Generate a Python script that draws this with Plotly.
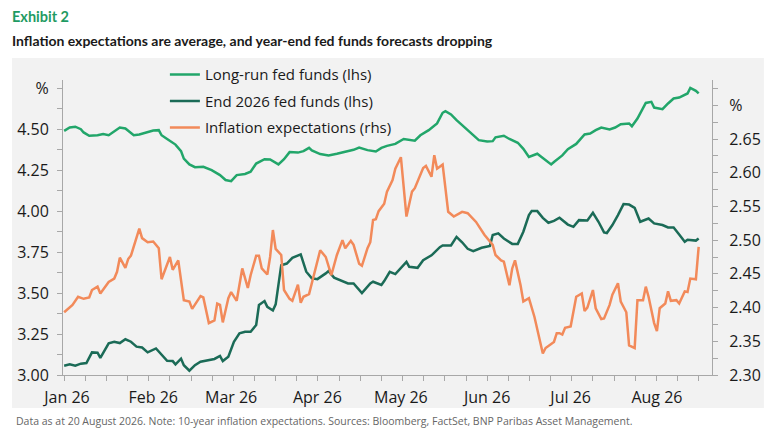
import plotly.graph_objects as go

# values
# fed funds (lhs, %)
long_run_dates = [
    "2025-12-31", "2026-01-02", "2026-01-04", "2026-01-06", "2026-01-07", "2026-01-09", "2026-01-12",
    "2026-01-14", "2026-01-16", "2026-01-18", "2026-01-20", "2026-01-22", "2026-01-24", "2026-01-25",
    "2026-01-27", "2026-01-30",
    "2026-02-01", "2026-02-03", "2026-02-04", "2026-02-06", "2026-02-09", "2026-02-11", "2026-02-12",
    "2026-02-14", "2026-02-16", "2026-02-19", "2026-02-22", "2026-02-25", "2026-02-27",
    "2026-03-01", "2026-03-03", "2026-03-06", "2026-03-08", "2026-03-10", "2026-03-13", "2026-03-15",
    "2026-03-18", "2026-03-20", "2026-03-22", "2026-03-25", "2026-03-27", "2026-03-29", "2026-03-30",
    "2026-04-02", "2026-04-05", "2026-04-08", "2026-04-11", "2026-04-14", "2026-04-16", "2026-04-19",
    "2026-04-22", "2026-04-24", "2026-04-26", "2026-04-29",
    "2026-05-02", "2026-05-06", "2026-05-08", "2026-05-11", "2026-05-14", "2026-05-16", "2026-05-17",
    "2026-05-19", "2026-05-21", "2026-05-24", "2026-05-27", "2026-05-29",
    "2026-06-01", "2026-06-03", "2026-06-04", "2026-06-07", "2026-06-09", "2026-06-12", "2026-06-14",
    "2026-06-16", "2026-06-19", "2026-06-22", "2026-06-24", "2026-06-25", "2026-06-28", "2026-06-30",
    "2026-07-03", "2026-07-06", "2026-07-08", "2026-07-10", "2026-07-12", "2026-07-15", "2026-07-17",
    "2026-07-19", "2026-07-22", "2026-07-23", "2026-07-25", "2026-07-28", "2026-07-30", "2026-07-31",
    "2026-08-03", "2026-08-05", "2026-08-07", "2026-08-09", "2026-08-12", "2026-08-13", "2026-08-15",
    "2026-08-16",
]
long_run = [
    4.49, 4.51, 4.515, 4.50, 4.48, 4.46, 4.463, 4.47, 4.463, 4.488, 4.51, 4.504, 4.48, 4.463, 4.468, 4.484,
    4.492, 4.494, 4.463, 4.44, 4.406, 4.366, 4.32, 4.285, 4.268, 4.27, 4.25, 4.22, 4.19,
    4.183, 4.22, 4.227, 4.24, 4.29, 4.317, 4.315, 4.285, 4.317, 4.36, 4.357, 4.366, 4.386, 4.37,
    4.348, 4.34, 4.35, 4.36, 4.374, 4.388, 4.372, 4.364, 4.386, 4.398, 4.41,
    4.44, 4.43, 4.463, 4.494, 4.535, 4.60, 4.61, 4.59, 4.555, 4.51, 4.46, 4.433,
    4.425, 4.427, 4.45, 4.46, 4.44, 4.417, 4.38, 4.33, 4.35, 4.31, 4.285, 4.30, 4.34, 4.378,
    4.41, 4.468, 4.473, 4.494, 4.51, 4.498, 4.51, 4.53, 4.535, 4.518, 4.565, 4.66, 4.667, 4.632,
    4.622, 4.657, 4.687, 4.693, 4.718, 4.752, 4.734, 4.718,
]

end26_dates = [
    "2025-12-31", "2026-01-02", "2026-01-04", "2026-01-06", "2026-01-08", "2026-01-10", "2026-01-12",
    "2026-01-13", "2026-01-16", "2026-01-18", "2026-01-20", "2026-01-22", "2026-01-24", "2026-01-26",
    "2026-01-28", "2026-01-30",
    "2026-02-02", "2026-02-03", "2026-02-06", "2026-02-08", "2026-02-09", "2026-02-11", "2026-02-12",
    "2026-02-14", "2026-02-16", "2026-02-18", "2026-02-21", "2026-02-23", "2026-02-25", "2026-02-26",
    "2026-02-28",
    "2026-03-02", "2026-03-04", "2026-03-06", "2026-03-08", "2026-03-10", "2026-03-11", "2026-03-13",
    "2026-03-14", "2026-03-16", "2026-03-17", "2026-03-18", "2026-03-19", "2026-03-21", "2026-03-23",
    "2026-03-26", "2026-03-28", "2026-03-30",
    "2026-04-01", "2026-04-04", "2026-04-05", "2026-04-07", "2026-04-09", "2026-04-12", "2026-04-14",
    "2026-04-17", "2026-04-20", "2026-04-21", "2026-04-24", "2026-04-25", "2026-04-27", "2026-04-29",
    "2026-05-03", "2026-05-04", "2026-05-07", "2026-05-09", "2026-05-12", "2026-05-15", "2026-05-16",
    "2026-05-19", "2026-05-21", "2026-05-23", "2026-05-25", "2026-05-27", "2026-05-30",
    "2026-06-02", "2026-06-03", "2026-06-05", "2026-06-07", "2026-06-10", "2026-06-12", "2026-06-14",
    "2026-06-16", "2026-06-17", "2026-06-19", "2026-06-21", "2026-06-23", "2026-06-25", "2026-06-27",
    "2026-06-30",
    "2026-07-02", "2026-07-04", "2026-07-07", "2026-07-09", "2026-07-11", "2026-07-13", "2026-07-14",
    "2026-07-16", "2026-07-18", "2026-07-20", "2026-07-22", "2026-07-24", "2026-07-26", "2026-07-29",
    "2026-07-31",
    "2026-08-03", "2026-08-05", "2026-08-07", "2026-08-09", "2026-08-11", "2026-08-12", "2026-08-14",
    "2026-08-15", "2026-08-16",
]
end26 = [
    3.057, 3.065, 3.057, 3.069, 3.073, 3.138, 3.136, 3.105, 3.193, 3.203, 3.195, 3.218, 3.203, 3.173,
    3.168, 3.138,
    3.162, 3.142, 3.087, 3.085, 3.065, 3.10, 3.06, 3.026, 3.06, 3.081, 3.09, 3.098, 3.116, 3.085, 3.112,
    3.203, 3.254, 3.264, 3.264, 3.305, 3.427, 3.451, 3.416, 3.394, 3.431, 3.569, 3.67, 3.68, 3.715,
    3.736, 3.63, 3.59,
    3.585, 3.62, 3.634, 3.594, 3.58, 3.559, 3.559, 3.50, 3.559, 3.569, 3.549, 3.573, 3.63, 3.616,
    3.69, 3.66, 3.654, 3.70, 3.73, 3.78, 3.79, 3.79, 3.843, 3.81, 3.77, 3.756, 3.776,
    3.788, 3.854, 3.864, 3.833, 3.80, 3.80, 3.874, 3.976, 4.00, 4.00, 3.959, 3.929, 3.94, 3.96, 3.918,
    3.904, 3.945, 3.943, 3.99, 3.935, 3.87, 3.866, 3.915, 3.976, 4.043, 4.04, 4.02, 3.935, 3.955, 3.925,
    3.915, 3.90, 3.90, 3.857, 3.813, 3.825, 3.82, 3.82, 3.833,
]

# 10-year inflation expectations (rhs, %)
infl_dates = [
    "2025-12-31", "2026-01-03", "2026-01-05", "2026-01-07", "2026-01-09", "2026-01-10", "2026-01-12",
    "2026-01-13", "2026-01-16", "2026-01-18", "2026-01-19", "2026-01-20", "2026-01-22", "2026-01-23",
    "2026-01-24", "2026-01-27", "2026-01-28", "2026-01-30",
    "2026-02-01", "2026-02-03", "2026-02-04", "2026-02-06", "2026-02-07", "2026-02-08", "2026-02-10",
    "2026-02-12", "2026-02-14", "2026-02-15", "2026-02-18", "2026-02-19", "2026-02-21", "2026-02-23",
    "2026-02-24", "2026-02-25", "2026-02-26", "2026-02-28",
    "2026-03-01", "2026-03-03", "2026-03-05", "2026-03-07", "2026-03-08", "2026-03-10", "2026-03-11",
    "2026-03-12", "2026-03-14", "2026-03-15", "2026-03-16", "2026-03-17", "2026-03-19", "2026-03-20",
    "2026-03-22", "2026-03-23", "2026-03-25", "2026-03-26", "2026-03-27", "2026-03-29", "2026-03-31",
    "2026-04-02", "2026-04-04", "2026-04-05", "2026-04-06", "2026-04-08", "2026-04-10", "2026-04-11",
    "2026-04-13", "2026-04-14", "2026-04-16", "2026-04-17", "2026-04-19", "2026-04-20", "2026-04-21",
    "2026-04-22", "2026-04-23", "2026-04-25", "2026-04-26", "2026-04-28", "2026-04-29",
    "2026-05-01", "2026-05-03", "2026-05-05", "2026-05-06", "2026-05-09", "2026-05-10", "2026-05-12",
    "2026-05-13", "2026-05-14", "2026-05-16", "2026-05-17", "2026-05-18", "2026-05-20", "2026-05-23",
    "2026-05-25", "2026-05-28", "2026-05-31",
    "2026-06-03", "2026-06-04", "2026-06-06", "2026-06-07", "2026-06-09", "2026-06-10", "2026-06-11",
    "2026-06-13", "2026-06-14", "2026-06-16", "2026-06-18", "2026-06-21", "2026-06-22", "2026-06-25",
    "2026-06-26", "2026-06-27", "2026-06-28", "2026-06-29",
    "2026-07-01", "2026-07-03", "2026-07-05", "2026-07-06", "2026-07-07", "2026-07-09", "2026-07-10",
    "2026-07-12", "2026-07-13", "2026-07-15", "2026-07-16", "2026-07-18", "2026-07-19", "2026-07-21",
    "2026-07-22", "2026-07-24", "2026-07-25", "2026-07-27", "2026-07-28", "2026-07-29", "2026-07-31",
    "2026-08-01", "2026-08-02", "2026-08-04", "2026-08-05", "2026-08-06", "2026-08-08", "2026-08-09",
    "2026-08-11", "2026-08-12", "2026-08-13", "2026-08-15", "2026-08-16",
]
infl = [
    2.393, 2.404, 2.416, 2.413, 2.415, 2.426, 2.431, 2.421, 2.438, 2.443, 2.453, 2.474, 2.459, 2.472,
    2.477, 2.517, 2.503, 2.497,
    2.498, 2.488, 2.442, 2.463, 2.475, 2.456, 2.47, 2.411, 2.409, 2.398, 2.417, 2.415, 2.377, 2.381,
    2.406, 2.404, 2.378, 2.414,
    2.423, 2.41, 2.458, 2.429, 2.448, 2.477, 2.477, 2.458, 2.449, 2.475, 2.515, 2.487, 2.478, 2.426,
    2.413, 2.41, 2.434, 2.407, 2.416, 2.42, 2.451,
    2.485, 2.475, 2.463, 2.448, 2.478, 2.50, 2.488, 2.499, 2.493, 2.465, 2.462, 2.488, 2.497, 2.53,
    2.531, 2.543, 2.554, 2.572, 2.589, 2.606,
    2.623, 2.535, 2.572, 2.577, 2.607, 2.61, 2.594, 2.626, 2.606, 2.612, 2.577, 2.542, 2.535, 2.542,
    2.54, 2.527, 2.508,
    2.493, 2.478, 2.47, 2.468, 2.433, 2.458, 2.47, 2.433, 2.409, 2.414, 2.386, 2.332, 2.34, 2.349,
    2.362, 2.362, 2.36, 2.37,
    2.372, 2.416, 2.421, 2.395, 2.40, 2.426, 2.399, 2.383, 2.384, 2.404, 2.419, 2.436, 2.409, 2.393,
    2.344, 2.34, 2.411, 2.411, 2.431, 2.416, 2.377,
    2.365, 2.399, 2.406, 2.424, 2.41, 2.411, 2.406, 2.424, 2.423, 2.443, 2.442, 2.49,
]

month_ticks = ["2026-01-01", "2026-02-01", "2026-03-01", "2026-04-01",
               "2026-05-01", "2026-06-01", "2026-07-01", "2026-08-01"]
month_labels = ["Jan 26", "Feb 26", "Mar 26", "Apr 26", "May 26", "Jun 26", "Jul 26", "Aug 26"]
lhs_ticks = [3.00, 3.25, 3.50, 3.75, 4.00, 4.25, 4.50, 4.75]
lhs_labels = ["3.00", "3.25", "3.50", "3.75", "4.00", "4.25", "4.50", "%"]
rhs_ticks = [2.30, 2.35, 2.40, 2.45, 2.50, 2.55, 2.60, 2.65, 2.70]
rhs_labels = ["2.30", "2.35", "2.40", "2.45", "2.50", "2.55", "2.60", "2.65", "%"]

GREEN = "#22a66a"
DARK_GREEN = "#1b6b57"
ORANGE = "#f28a5a"
AXIS_GREY = "#a8a8a8"
PANEL = "#f2f2f2"
TEXT = "#1a1a1a"
FONT = "Open Sans"
TITLE_FONT = "Lato"

fig = go.Figure()

fig.add_trace(go.Scatter(x=long_run_dates, y=long_run, mode="lines",
                         name="Long-run fed funds (lhs)", legendgroup="lr",
                         line=dict(color=GREEN, width=2.5)))
fig.add_trace(go.Scatter(x=end26_dates, y=end26, mode="lines",
                         name="End 2026 fed funds (lhs)", legendgroup="e26",
                         line=dict(color=DARK_GREEN, width=2.5)))
fig.add_trace(go.Scatter(x=infl_dates, y=infl, mode="lines", yaxis="y2",
                         name="Inflation expectations (rhs)", legendgroup="inf",
                         line=dict(color=ORANGE, width=2.5)))

# grey panel behind the chart, title above it
fig.add_shape(type="rect", xref="paper", yref="paper", x0=-0.0786, x1=1.08, y0=-0.112, y1=1.075,
              fillcolor=PANEL, line=dict(width=0), layer="below")

fig.add_annotation(text="<b>Exhibit 2</b>", xref="paper", yref="paper", x=-0.0817, y=1.214,
                   xanchor="left", yanchor="middle", showarrow=False,
                   font=dict(family=TITLE_FONT, size=14.5, color="#1f9b63"))
fig.add_annotation(text="<b>Inflation expectations are average, and year-end fed funds forecasts dropping</b>",
                   xref="paper", yref="paper", x=-0.0817, y=1.135, xanchor="left", yanchor="middle",
                   showarrow=False, font=dict(family=TITLE_FONT, size=14, color=TEXT))
fig.add_annotation(text="Data as at 20 August 2026. Note: 10-year inflation expectations. "
                        "Sources: Bloomberg, FactSet, BNP Paribas Asset Management.",
                   xref="paper", yref="paper", x=-0.0755, y=-0.156, xanchor="left", yanchor="middle",
                   showarrow=False, font=dict(family=FONT, size=10.5, color="#666666"))

axis_common = dict(showline=True, linecolor=AXIS_GREY, linewidth=1, showgrid=False, zeroline=False,
                   ticks="outside", ticklen=5, tickcolor=AXIS_GREY,
                   tickfont=dict(family=FONT, size=16, color=TEXT))

fig.update_layout(
    width=772, height=433,
    margin=dict(l=63, r=60, t=80, b=58),
    paper_bgcolor="white",
    plot_bgcolor=PANEL,
    showlegend=True,
    legend=dict(x=0.157, y=1.074, xanchor="left", yanchor="top", bgcolor="rgba(0,0,0,0)",
                tracegroupgap=4, font=dict(family=FONT, size=15, color=TEXT)),
    xaxis=dict(type="date", range=["2025-12-30 14:00", "2026-08-20 19:00"],
               tickmode="array", tickvals=month_ticks, ticktext=month_labels,
               showline=True, linecolor=AXIS_GREY, showgrid=False, zeroline=False, ticks="",
               ticklabelstandoff=8,
               tickfont=dict(family=FONT, size=16, color=TEXT),
               minor=dict(tickmode="linear", tick0="2025-12-31", dtick=7.6 * 86400000,
                          ticks="outside", ticklen=5, tickcolor=AXIS_GREY, showgrid=False)),
    yaxis=dict(range=[3.0, 4.8], tickmode="array", tickvals=lhs_ticks, ticktext=lhs_labels,
               ticklabelstandoff=5,
               minor=dict(tickmode="linear", tick0=3.0, dtick=0.125, ticks="outside", ticklen=5,
                          tickcolor=AXIS_GREY, showgrid=False),
               **axis_common),
    yaxis2=dict(range=[2.30, 2.7375], overlaying="y", side="right",
                tickmode="array", tickvals=rhs_ticks, ticktext=rhs_labels,
                ticklabelstandoff=8,
                minor=dict(tickmode="linear", tick0=2.30, dtick=0.025, ticks="outside", ticklen=5,
                           tickcolor=AXIS_GREY, showgrid=False),
                **axis_common),
)

# the page has no body margin, so the figure sits at the top-left corner of the window
fig.write_html("out.html", config={"displayModeBar": False},
               post_script="document.body.style.margin = '0';")
